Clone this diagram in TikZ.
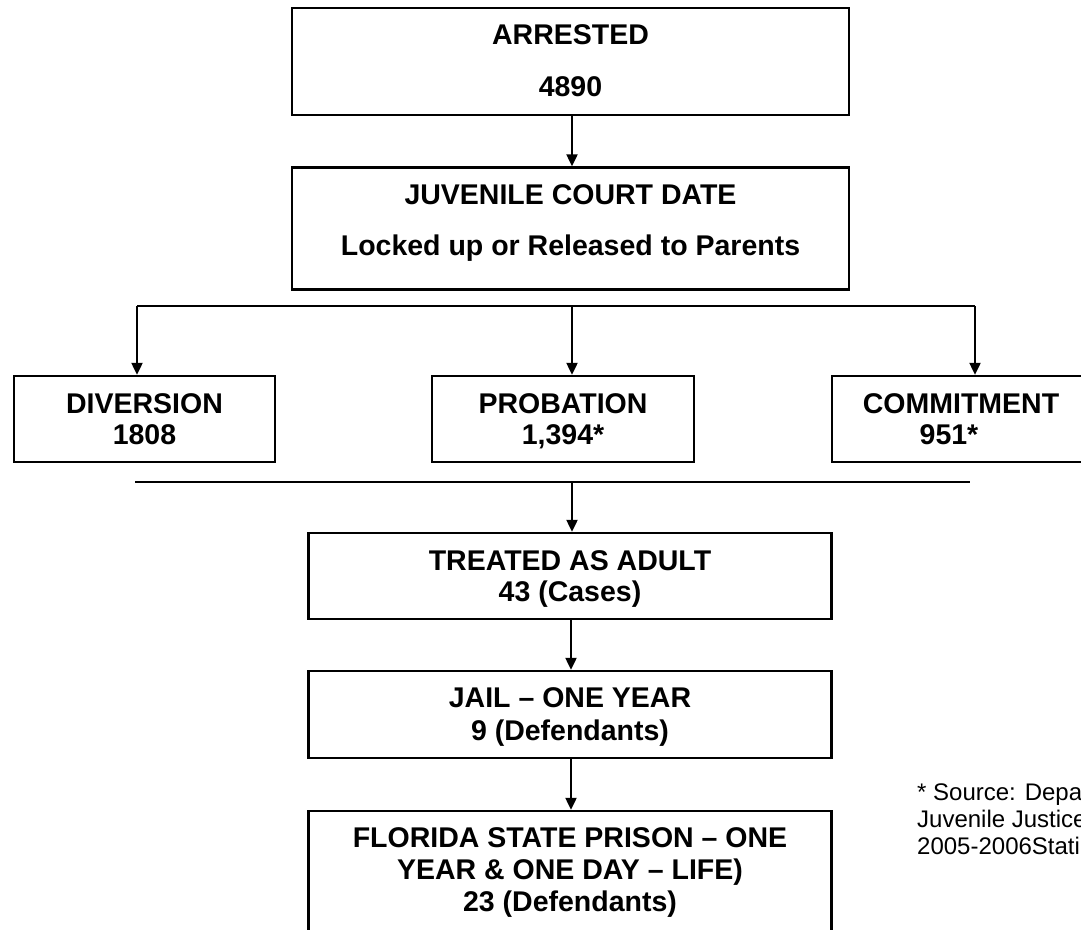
\documentclass[tikz,border=0pt]{standalone}
\usepackage{fontspec}
\setmainfont{Liberation Sans}
\usetikzlibrary{arrows.meta}
\begin{document}
\begin{tikzpicture}[x=1pt,y=-1pt,
  box/.style={draw=black, line width=2.3pt, inner sep=0pt, rectangle},
  lbl/.style={anchor=base, inner sep=0pt, font=\fontsize{28.5}{34}\selectfont\bfseries},
  note/.style={anchor=base west, inner sep=0pt, font=\fontsize{24}{27}\selectfont},
  link/.style={line width=2pt},
  arr/.style={line width=2pt, -{Triangle[length=12pt,width=11pt]}}]
\fill[white] (0,0) rectangle (1081,929);
\useasboundingbox (0,0) rectangle (1081,929);

% boxes
\node[box, minimum width=557pt, minimum height=107pt] (arr) at (570.5,61.5) {};
\node[box, minimum width=557pt, minimum height=122pt] (juv) at (570.5,228.5) {};
\node[box, minimum width=261pt, minimum height=86pt] (div) at (144.5,419) {};
\node[box, minimum width=262pt, minimum height=86pt] (pro) at (563,419) {};
\node[box, minimum width=268pt, minimum height=86pt] (com) at (966,419) {};
\node[box, minimum width=523pt, minimum height=86pt] (tre) at (570,576) {};
\node[box, minimum width=523pt, minimum height=87pt] (jail) at (570,714.5) {};
\node[box, minimum width=523pt, minimum height=130pt] (fsp) at (570,876) {};

% texts
\node[lbl] (t1) at (570.5,44.3) {ARRESTED};
\node[lbl] (t2) at (570.5,96.7) {4890};
\node[lbl] (t3) at (570.5,204) {JUVENILE COURT DATE};
\node[lbl] (t4) at (570.5,255) {Locked up or Released to Parents};
\node[lbl] (t5) at (144.5,413.3) {DIVERSION};
\node[lbl] (t6) at (144.5,444) {1808};
\node[lbl] (t7) at (563,413.3) {PROBATION};
\node[lbl] (t8) at (563,444) {1,394*};
\node[lbl] (t9) at (961,413.3) {COMMITMENT};
\node[lbl] (t10) at (949,444) {951*};
\node[lbl] (t11) at (570,570) {TREATED AS ADULT};
\node[lbl] (t12) at (570,601.7) {43 (Cases)};
\node[lbl] (t13) at (570,707.7) {JAIL -- ONE YEAR};
\node[lbl] (t14) at (570,740) {9 (Defendants)};
\node[lbl] (t15) at (570,847) {FLORIDA STATE PRISON -- ONE};
\node[lbl] (t16) at (570,879) {YEAR \& ONE DAY -- LIFE)};
\node[lbl] (t17) at (570,911) {23 (Defendants)};

\node[note] (n1) at (917,800) {* Source: Depa};
\node[note] (n2) at (917,827) {Juvenile Justice};
\node[note] (n3) at (917,854) {2005-2006Stati};

% connectors
\coordinate (ax) at (572,0);
\draw[arr] (arr.south -| ax) -- (juv.north -| ax);

\coordinate (bl) at (137,306);
\coordinate (bm) at (572,306);
\coordinate (br) at (975,306);
\draw[link] (bl) -- (br);
\draw[arr] (bl) -- (bl |- div.north);
\draw[arr] (bm) -- (bm |- pro.north);
\draw[arr] (br) -- (br |- com.north);

\coordinate (cl) at (135,482);
\coordinate (cm) at (572,482);
\coordinate (cr) at (970,482);
\draw[link] (cl) -- (cr);
\draw[arr] (cm) -- (cm |- tre.north);

\coordinate (lx) at (571,0);
\draw[arr] (tre.south -| lx) -- (jail.north -| lx);
\draw[arr] (jail.south -| lx) -- (fsp.north -| lx);
\end{tikzpicture}
\end{document}
